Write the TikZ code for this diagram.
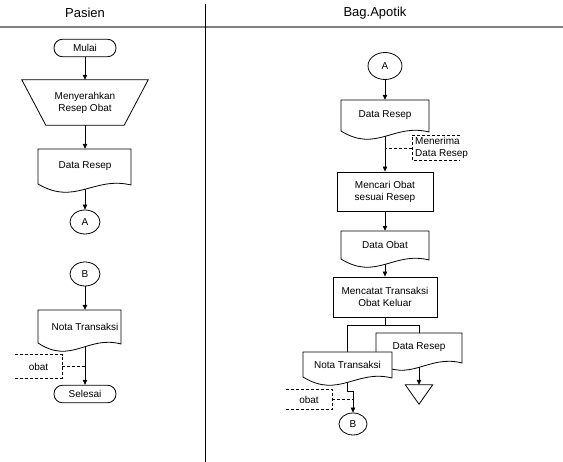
\documentclass[tikz,border=0pt]{standalone}
\usepackage{fontspec}
\setmainfont{Liberation Sans}
\usetikzlibrary{arrows.meta,shapes.geometric,calc}

\pgfdeclarelayer{bg}
\pgfsetlayers{bg,main}

\tikzset{
  base/.style={font=\fontsize{10}{12}\selectfont, align=center, inner sep=0pt},
  flow/.style={line width=0.8pt, black},
  arr/.style={flow, -{Triangle[length=5pt,width=4.5pt]}},
  term/.style={base, draw, line width=0.8pt, rounded corners=8.5pt,
               minimum width=62pt, minimum height=17.5pt},
  proc/.style={base, draw, line width=0.8pt},
  conn/.style={base, ellipse, draw, line width=0.8pt},
  textbox/.style={base},
  docline/.style={draw, fill=white, line width=0.8pt},
  note/.style={line width=0.7pt, dash pattern=on 3pt off 2pt},
  head/.style={font=\fontsize{13}{15}\selectfont, inner sep=0pt},
}

% document symbol: name, left x, right x, top y, corner y, text x, text
\newcommand\flowdoc[7]{%
  \path[docline] (#2,#4) -- (#3,#4) -- (#3,#5+1)
    .. controls ({#2+0.6*(#3-#2)},#5-8) and ({#2+0.4*(#3-#2)},#5+22) .. (#2,#5)
    -- cycle;
  \node[textbox, minimum width={#3-#2}, minimum height={#5-#4}]
    (#1) at (#6,{(#4+#5)/2}) {#7};
}

\begin{document}
\begin{tikzpicture}[x=1pt,y=-1pt]
\useasboundingbox (0,0) rectangle (563,462);

% swimlane headers
\node[head] (hpas) at (85,13) {Pasien};
\node[head] (hapo) at (375,13) {Bag.Apotik};
\draw[line width=1.6pt, black!50] (0,27) -- (563,27);
\draw[line width=0.9pt] (205,4) -- (205,462);

% ---- Pasien lane ----
\node[term] (mulai) at (85,48) {Mulai};
\node[textbox, minimum width=126pt, minimum height=45pt] (serah) at (85,102.5)
  {Menyerahkan\\Resep Obat};
\draw[flow] (serah.north west) -- (serah.north east)
  -- ([xshift=-24pt]serah.south east) -- ([xshift=24pt]serah.south west) -- cycle;
\flowdoc{resepL}{38}{131}{149}{184}{85}{Data Resep}
\node[conn, minimum width=30pt, minimum height=24pt] (aL) at (85,222) {A};

\node[conn, minimum width=30pt, minimum height=24pt] (bL) at (85,274) {B};
\flowdoc{notaL}{38}{121}{310}{343}{85}{Nota Transaksi}
\node[term] (selesai) at (85,394) {Selesai};
\node[textbox, minimum width=47pt, minimum height=23pt] (obatL) at (38.5,366.5) {obat};
\draw[note] (obatL.north west) -- (obatL.north east) -- (obatL.south east) -- (obatL.south west);

% ---- Bag.Apotik lane ----
\node[conn, minimum width=34pt, minimum height=27pt] (aR) at (385,66) {A};
\flowdoc{resepR}{341}{429}{100}{131}{385}{Data Resep}
\node[textbox, anchor=west, align=left, minimum height=25pt, inner xsep=3pt]
  (terima) at (412,148) {Menerima\\Data Resep};
\draw[note] ([xshift=48pt]terima.north west) -- (terima.north west)
  -- (terima.south west) -- ([xshift=47pt]terima.south west);
\node[proc, minimum width=96pt, minimum height=39pt] (cari) at (385,191.5)
  {Mencari Obat\\sesuai Resep};
\flowdoc{obatdata}{341}{429}{231}{259}{385}{Data Obat}
\node[proc, minimum width=104pt, minimum height=40pt] (catat) at (385,297)
  {Mencatat Transaksi\\Obat Keluar};
\flowdoc{resepR2}{376}{462}{333}{362}{419}{Data Resep}
\flowdoc{notaR}{303}{392}{352}{377}{347.5}{Nota Transaksi}
\node[textbox, minimum width=46pt, minimum height=20pt] (obatR) at (309,399.5) {obat};
\draw[note] (obatR.north west) -- (obatR.north east) -- (obatR.south east) -- (obatR.south west);
\node[textbox, minimum width=27pt, minimum height=19pt] (arsip) at (419,394.5) {};
\draw[flow] (arsip.north west) -- (arsip.north east) -- (arsip.south) -- cycle;
\node[conn, minimum width=28pt, minimum height=22pt] (bR) at (353,424) {B};
\coordinate (split) at (385,325.5);
\coordinate (jog) at (353,391.5);

% ---- connectors (kept underneath the symbols) ----
\begin{pgfonlayer}{bg}
  \draw[arr] (mulai) -- (serah);
  \draw[arr] (serah) -- (resepL);
  \draw[arr] (resepL.south) -- (aL.north);
  \draw[arr] (bL) -- (notaL);
  \draw[arr] (notaL.south) -- (selesai.north);
  \draw[note] (obatL.east) -- (obatL.east -| selesai.north);

  \draw[arr] (aR) -- (resepR);
  \draw[arr] (resepR.south) -- (cari.north);
  \draw[note] (terima.west) -- (terima.west -| cari.north);
  \draw[arr] (cari) -- (obatdata);
  \draw[arr] (obatdata.south) -- (catat.north);
  \draw[flow] (catat.south) -- (split);
  \draw[flow] (notaR.north) |- (split) -| (resepR2.north);
  \draw[arr] (resepR2.south) -- (resepR2.south |- arsip.north);
  \draw[arr] (notaR.south) |- (jog) -- (bR.north);
  \draw[note] (obatR.east) -- (obatR.east -| bR.north);
\end{pgfonlayer}
\end{tikzpicture}
\end{document}
